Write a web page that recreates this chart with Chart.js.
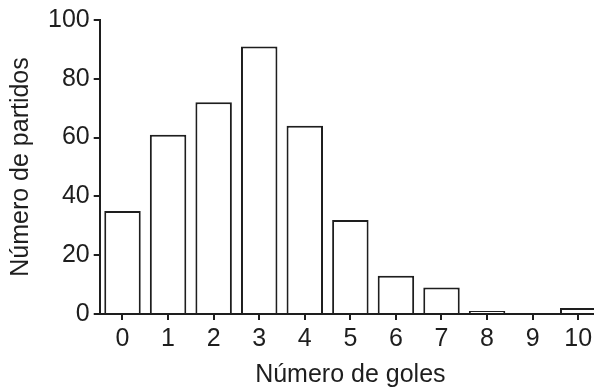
<!DOCTYPE html>
<html>
<head>
<meta charset="utf-8">
<script src="https://cdn.jsdelivr.net/npm/chart.js@4"></script>
<style>
  html, body { margin: 0; padding: 0; background: #fff; overflow: hidden; }
  #wrap { width: 602px; height: 390px; }
</style>
</head>
<body>
<div id="wrap"><canvas id="goles"></canvas></div>
<script>
// goles por partido
const goles = ['0', '1', '2', '3', '4', '5', '6', '7', '8', '9', '10'];
const partidos = [35, 61, 72, 91, 64, 32, 13, 9, 1, 0, 2];
const yTicks = [0, 20, 40, 60, 80, 100];

const ink = '#1e1e1e';
const fuente = { family: 'Liberation Sans, Arial, sans-serif', size: 25 };

new Chart(document.getElementById('goles'), {
    type: 'bar',
    data: {
        labels: goles,
        datasets: [{
            data: partidos,
            backgroundColor: '#ffffff',
            borderColor: ink,
            borderWidth: 2,
            barPercentage: 0.8,
            categoryPercentage: 1
        }]
    },
    options: {
        responsive: true,
        maintainAspectRatio: false,
        animation: false,
        layout: { padding: { top: 20, right: 1, left: 0, bottom: 0 } },
        plugins: { legend: { display: false }, tooltip: { enabled: false } },
        scales: {
            x: {
                grid: { display: true, drawOnChartArea: false, offset: false, tickLength: 6, color: ink, lineWidth: 2 },
                border: { color: ink, width: 2 },
                ticks: { color: ink, font: fuente, padding: 4, maxRotation: 0 },
                title: { display: true, text: 'Número de goles', color: ink, font: fuente, padding: { top: 2, bottom: 0 } }
            },
            y: {
                min: 0,
                max: 100,
                afterBuildTicks: (axis) => { axis.ticks = yTicks.map(v => ({ value: v })); },
                grid: { display: true, drawOnChartArea: false, tickLength: 6, color: ink, lineWidth: 2 },
                border: { color: ink, width: 2 },
                ticks: { color: ink, font: fuente, padding: 4 },
                title: { display: true, text: 'Número de partidos', color: ink, font: fuente, padding: { top: 6, bottom: 8 } }
            }
        }
    }
});
</script>
</body>
</html>
